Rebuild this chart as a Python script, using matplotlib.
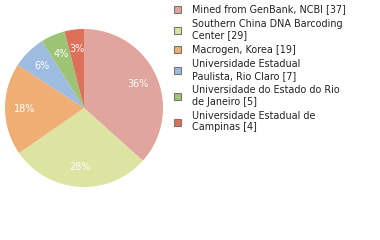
import numpy as np
import matplotlib
matplotlib.use('Agg')
import matplotlib.pyplot as plt
from matplotlib.patches import Patch

# Data
labels = ['Mined from GenBank, NCBI [37]',
	'Southern China DNA Barcoding\nCenter [29]',
	'Macrogen, Korea [19]',
	'Universidade Estadual\nPaulista, Rio Claro [7]',
	'Universidade do Estado do Rio\nde Janeiro [5]',
	'Universidade Estadual de\nCampinas [4]']
counts = [37, 29, 19, 7, 5, 4]
colors = ['#E0A59D', '#DDE3A0', '#EFAE73', '#9EBBE0', '#9DC374', '#DC7059']

W, H = 380, 240
plt.rcParams['font.family'] = ['DejaVu Sans']
fig = plt.figure(figsize=(W/100, H/100), dpi=100)

# Pie (percentages truncated, as in the source chart)
ax = fig.add_axes([5/W, 53/H, 158/W, 158/H])
ax.pie(counts, colors=colors, startangle=90, counterclock=False,
	autopct=lambda p: '%d%%' % int(p + 1e-9),
	pctdistance=0.75, textprops=dict(color='white', fontsize=7),
	wedgeprops=dict(linewidth=0))
ax.set_xlim(-1, 1)
ax.set_ylim(-1, 1)

# Legend
handles = [Patch(facecolor=c, edgecolor='#777777', linewidth=0.8) for c in colors]
leg = fig.legend(handles, labels, loc='upper left', bbox_to_anchor=(174/W, 1 - 4.5/H),
	frameon=False, fontsize=6.9, handlelength=0.7, handleheight=0.7,
	handletextpad=1.15, labelspacing=0.45, borderpad=0, borderaxespad=0)
for t in leg.get_texts():
	t.set_color('#222222')

fig.savefig('out.png', dpi=100)
